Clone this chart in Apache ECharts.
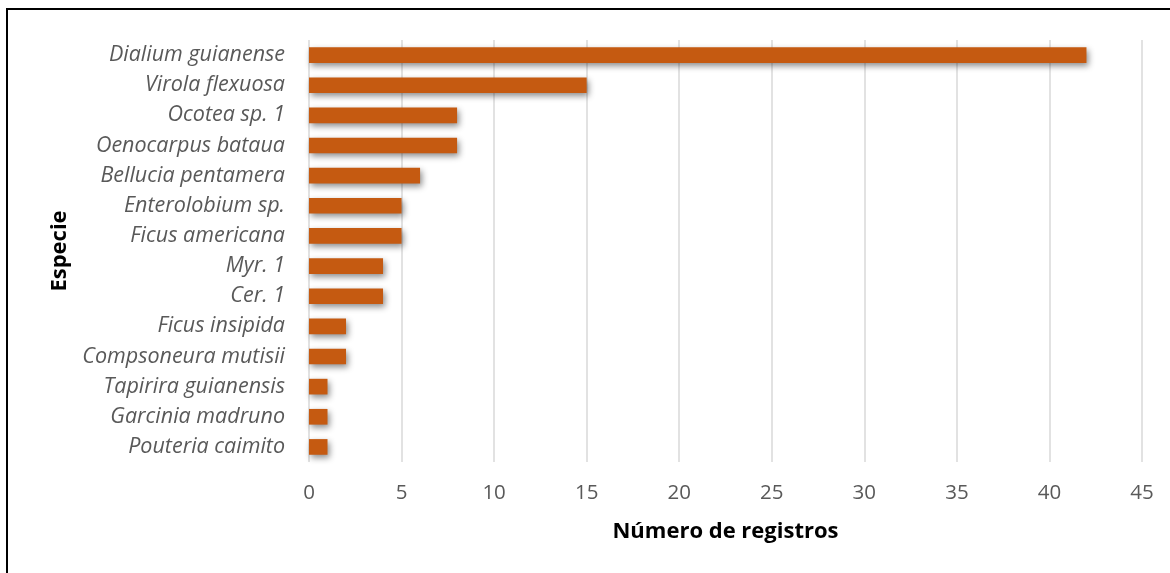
<!DOCTYPE html>
<html>
<head>
<meta charset="utf-8">
<script src="https://cdn.jsdelivr.net/npm/echarts@6/dist/echarts.min.js"></script>
<style>
html,body{margin:0;padding:0;background:#fff;}
#c{width:1170px;height:573px;}
</style>
</head>
<body>
<div id="c"></div>
<script>
const categories = ["Dialium guianense","Virola flexuosa","Ocotea sp. 1","Oenocarpus bataua","Bellucia pentamera","Enterolobium sp.","Ficus americana","Myr. 1","Cer. 1","Ficus insipida","Compsoneura mutisii","Tapirira guianensis","Garcinia madruno","Pouteria caimito"];
const values = [42,15,8,8,6,5,5,4,4,2,2,1,1,1];
const xTicks = [0,5,10,15,20,25,30,35,40,45];

const chart = echarts.init(document.getElementById('c'), null, {renderer:'canvas'});
const FONT = '"Open Sans", sans-serif';
chart.setOption({
  animation:false,
  graphic:[{type:'rect', shape:{x:7,y:9,width:1180,height:600}, style:{fill:'none', stroke:'#000', lineWidth:2}, z:-1}],
  grid:{left:309, right:28, top:40, bottom:111},
  xAxis:{
    type:'value', min:xTicks[0], max:xTicks[xTicks.length-1], interval:5,
    axisLine:{show:false}, axisTick:{show:false},
    splitLine:{show:true, lineStyle:{color:'#d9d9d9', width:1.5}},
    axisLabel:{color:'#595959', fontSize:20.5, fontFamily:FONT, margin:21},
    name:'Número de registros', nameLocation:'middle', nameGap:59,
    nameTextStyle:{color:'#000', fontSize:22, fontWeight:'bold', fontFamily:FONT}
  },
  yAxis:{
    type:'category', data:categories, inverse:true,
    axisLine:{show:false}, axisTick:{show:false},
    axisLabel:{color:'#595959', fontSize:21.5, fontStyle:'italic', fontFamily:FONT, margin:24},
    name:'Especie', nameLocation:'middle', nameGap:238, nameRotate:90,
    nameTextStyle:{color:'#000', fontSize:22, fontWeight:'bold', fontFamily:FONT}
  },
  series:[{
    type:'bar', data:values, barWidth:'52%',
    itemStyle:{color:'#C55A11', shadowColor:'rgba(0,0,0,0.45)', shadowBlur:6, shadowOffsetX:2, shadowOffsetY:3}
  }]
});
</script>
</body>
</html>
